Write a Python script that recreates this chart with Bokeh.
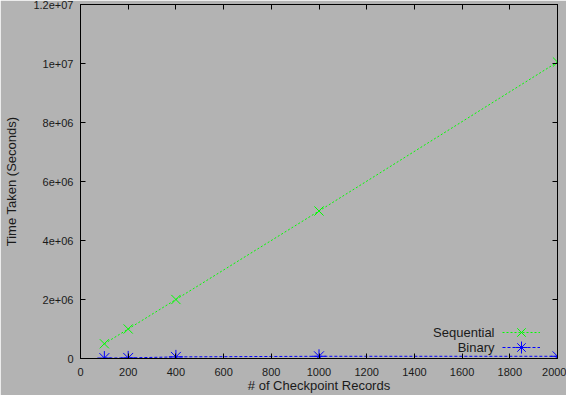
from bokeh.plotting import figure
from bokeh.models import (Range1d, LinearAxis, FixedTicker, Legend, LegendItem, Label)
from bokeh.embed import file_html
from bokeh.resources import INLINE

# ---- data ----
records = [100, 200, 400, 1000, 2000]
sequential = [500000, 1000000, 2000000, 5000000, 10050000]
binary = [15000, 20000, 55000, 75000, 75000]

x_ticks = [0, 200, 400, 600, 800, 1000, 1200, 1400, 1600, 1800, 2000]
y_ticks = [0, 2e6, 4e6, 6e6, 8e6, 1e7, 1.2e7]
y_tick_labels = ["0", "2e+06", "4e+06", "6e+06", "8e+06", "1e+07", "1.2e+07"]

x_title = "# of Checkpoint Records"
y_title = "Time Taken (Seconds)"
series_names = ["Sequential", "Binary"]

BG = "#b3b3b3"
FONT = "Liberation Sans"
TXT = "#1a1a1a"

p = figure(width=566, height=395, output_backend="svg", toolbar_location=None,
           x_range=Range1d(0, 2000), y_range=Range1d(0, 1.2e7),
           min_border_left=80, min_border_right=9, min_border_top=4, min_border_bottom=36)
p.background_fill_color = BG
p.border_fill_color = BG
p.outline_line_color = "black"
p.outline_line_width = 1
p.xgrid.visible = False
p.ygrid.visible = False

def style_axis(ax, ticks, labels=True):
    ax.ticker = FixedTicker(ticks=ticks)
    ax.axis_line_color = "black"
    ax.major_tick_line_color = "black"
    ax.major_tick_in = 5
    ax.major_tick_out = 0
    ax.minor_tick_line_color = None
    ax.major_label_text_font = FONT
    ax.major_label_text_font_size = "11px"
    ax.major_label_text_color = TXT if labels else None
    ax.major_label_standoff = 6 if labels else 0
    ax.axis_label_text_font = FONT
    ax.axis_label_text_font_size = "13px"
    ax.axis_label_text_font_style = "normal"
    ax.axis_label_text_color = TXT

style_axis(p.xaxis[0], x_ticks)
style_axis(p.yaxis[0], y_ticks)
p.yaxis[0].major_label_overrides = {t: l for t, l in zip(y_ticks, y_tick_labels)}
p.xaxis[0].axis_label = x_title
p.yaxis[0].axis_label = y_title
p.xaxis[0].major_label_standoff = 9
p.xaxis[0].axis_label_standoff = -1
p.yaxis[0].major_label_standoff = 7
p.yaxis[0].axis_label_standoff = 11

top = LinearAxis()
style_axis(top, x_ticks, labels=False)
p.add_layout(top, "above")
right = LinearAxis()
style_axis(right, y_ticks, labels=False)
p.add_layout(right, "right")

l1 = p.line(records, sequential, line_color="#00ff00", line_width=1, line_dash="2 2")
m1 = p.scatter(records, sequential, marker="x", size=13, line_color="#00ff00", line_width=1)
l2 = p.line(records, binary, line_color="#0000ff", line_width=1, line_dash="3 2")
m2 = p.scatter(records, binary, marker="asterisk", size=14, line_color="#0000ff", line_width=1)

for i, (name, rends) in enumerate(zip(series_names, [[l1, m1], [l2, m2]])):
    lg = Legend(items=[LegendItem(label="", renderers=rends)],
                location=(422, 11 - 15 * i), orientation="vertical",
                background_fill_alpha=0, border_line_color=None,
                padding=0, margin=0, spacing=0,
                glyph_width=38, glyph_height=30,
                label_width=0, label_height=30, label_standoff=0)
    p.add_layout(lg, "center")
    p.add_layout(Label(x=494 - 80, y=26 - i * 15, x_units="screen", y_units="screen",
                       text=name, text_align="right", text_baseline="middle",
                       text_font=FONT, text_font_size="13px", text_color=TXT))

open("out.html", "w").write(file_html(p, INLINE))
